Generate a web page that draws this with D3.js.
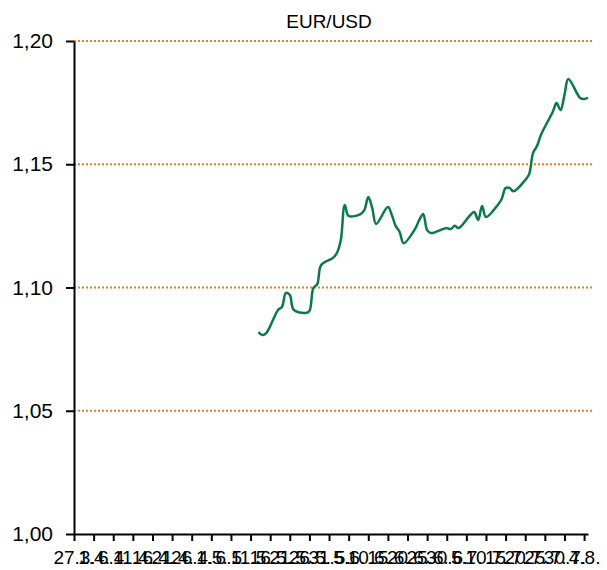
<!DOCTYPE html>
<html>
<head>
<meta charset="utf-8">
<script src="https://cdn.jsdelivr.net/npm/d3@7"></script>
<style>
  html, body { margin: 0; padding: 0; background: #fff; }
  svg { display: block; font-family: "Liberation Sans", Arial, sans-serif; }
</style>
</head>
<body>
<svg id="chart" width="607" height="570"></svg>
<script>
const title = 'EUR/USD';

const dates = [
  '2020-05-13', '2020-05-14', '2020-05-15', '2020-05-18', '2020-05-19', '2020-05-20',
  '2020-05-21', '2020-05-22', '2020-05-25', '2020-05-26', '2020-05-27', '2020-05-28',
  '2020-05-29', '2020-06-01', '2020-06-02', '2020-06-03', '2020-06-04', '2020-06-05',
  '2020-06-08', '2020-06-09', '2020-06-10', '2020-06-11', '2020-06-12', '2020-06-15',
  '2020-06-16', '2020-06-17', '2020-06-18', '2020-06-19', '2020-06-22', '2020-06-23',
  '2020-06-24', '2020-06-25', '2020-06-26', '2020-06-29', '2020-06-30', '2020-07-01',
  '2020-07-02', '2020-07-03', '2020-07-06', '2020-07-07', '2020-07-08', '2020-07-09',
  '2020-07-10', '2020-07-13', '2020-07-14', '2020-07-15', '2020-07-16', '2020-07-17',
  '2020-07-20', '2020-07-21', '2020-07-22', '2020-07-23', '2020-07-24', '2020-07-27',
  '2020-07-28', '2020-07-29', '2020-07-30', '2020-07-31', '2020-08-03', '2020-08-04',
  '2020-08-05'
];

const rates = [
  1.0819, 1.0807, 1.0815, 1.0909, 1.0921, 1.0978,
  1.0970, 1.0909, 1.0897, 1.0905, 1.0998, 1.1014,
  1.1091, 1.1120, 1.1140, 1.1193, 1.1335, 1.1290,
  1.1298, 1.1314, 1.1367, 1.1323, 1.1258, 1.1327,
  1.1294, 1.1249, 1.1225, 1.1180, 1.1240, 1.1274,
  1.1298, 1.1233, 1.1221, 1.1237, 1.1241, 1.1237,
  1.1250, 1.1241, 1.1294, 1.1306, 1.1274, 1.1331,
  1.1286, 1.1335, 1.1359, 1.1404, 1.1404, 1.1390,
  1.1436, 1.1460, 1.1546, 1.1574, 1.1619, 1.1712,
  1.1748, 1.1720, 1.1781, 1.1846, 1.1769, 1.1765,
  1.1769
];

const xTickDates = [
  '2020-03-27', '2020-04-01', '2020-04-06', '2020-04-11', '2020-04-16', '2020-04-21',
  '2020-04-26', '2020-05-01', '2020-05-06', '2020-05-11', '2020-05-16', '2020-05-21',
  '2020-05-26', '2020-05-31', '2020-06-05', '2020-06-10', '2020-06-15', '2020-06-20',
  '2020-06-25', '2020-06-30', '2020-07-05', '2020-07-10', '2020-07-15', '2020-07-20',
  '2020-07-25', '2020-07-30', '2020-08-04'
];

const xTickLabels = [
  '27.3.', '1.4.', '6.4.', '11.4.', '16.4.', '21.4.',
  '26.4.', '1.5.', '6.5.', '11.5.', '16.5.', '21.5.',
  '26.5.', '31.5.', '5.6.', '10.6.', '15.6.', '20.6.',
  '25.6.', '30.6.', '5.7.', '10.7.', '15.7.', '20.7.',
  '25.7.', '30.7.', '4.8.'
];

const xDomain = ['2020-03-27', '2020-08-05'];
const yTicks = [1.00, 1.05, 1.10, 1.15, 1.20];

const parse = d3.utcParse('%Y-%m-%d');
const fi = d3.formatLocale({ decimal: ',', thousands: ' ', grouping: [3], currency: ['', ' €'] });
const fmt = fi.format('.2f');

const data = dates.map((d, i) => ({ date: parse(d), value: rates[i] }));

const svg = d3.select('#chart');
const margin = { top: 41, right: 19, bottom: 36, left: 74 };
const width = 607, height = 570;

const x = d3.scaleUtc()
  .domain(xDomain.map(parse))
  .range([margin.left, width - margin.right]);

const y = d3.scaleLinear()
  .domain([1.00, 1.20])
  .range([height - margin.bottom, margin.top]);

// gridlines
svg.append('g')
  .selectAll('line')
  .data(yTicks.filter(t => t > 1.0))
  .join('line')
  .attr('x1', margin.left)
  .attr('x2', width - margin.right + 4)
  .attr('y1', d => y(d))
  .attr('y2', d => y(d))
  .attr('stroke', '#f07a1c')
  .attr('stroke-width', 2)
  .attr('stroke-dasharray', '2,2');

// y axis
const yAxis = d3.axisLeft(y)
  .tickValues(yTicks)
  .tickFormat(fmt)
  .tickSize(8)
  .tickSizeOuter(0)
  .tickPadding(13);

svg.append('g')
  .attr('transform', `translate(${margin.left},0)`)
  .call(yAxis)
  .call(g => g.select('.domain').attr('stroke', '#000').attr('stroke-width', 2))
  .call(g => g.selectAll('.tick line').attr('stroke', '#000').attr('stroke-width', 2))
  .call(g => g.selectAll('.tick text')
    .attr('font-size', 21)
    .attr('fill', '#000')
    .attr('font-family', '"Liberation Sans", Arial, sans-serif'));

// x axis
const labelByTick = new Map(xTickDates.map((d, i) => [+parse(d), xTickLabels[i]]));
const xAxis = d3.axisBottom(x)
  .tickValues(xTickDates.map(parse))
  .tickFormat(d => labelByTick.get(+d))
  .tickSize(7)
  .tickSizeOuter(0)
  .tickPadding(10);

svg.append('g')
  .attr('transform', `translate(0,${height - margin.bottom})`)
  .call(xAxis)
  .call(g => g.select('.domain').attr('stroke', '#000').attr('stroke-width', 2))
  .call(g => g.selectAll('.tick line').attr('stroke', '#000').attr('stroke-width', 2))
  .call(g => g.selectAll('.tick text')
    .attr('font-size', 19)
    .attr('fill', '#000')
    .attr('font-family', '"Liberation Sans", Arial, sans-serif'));

// line
const line = d3.line()
  .x(d => x(d.date))
  .y(d => y(d.value))
  .curve(d3.curveCatmullRom.alpha(0.5));

svg.append('path')
  .datum(data)
  .attr('fill', 'none')
  .attr('stroke', '#0a7a48')
  .attr('stroke-width', 2.5)
  .attr('stroke-linejoin', 'round')
  .attr('d', line);

// title
svg.append('text')
  .attr('x', 329)
  .attr('y', 28)
  .attr('text-anchor', 'middle')
  .attr('font-size', 19)
  .attr('fill', '#000')
  .text(title);
</script>
</body>
</html>
